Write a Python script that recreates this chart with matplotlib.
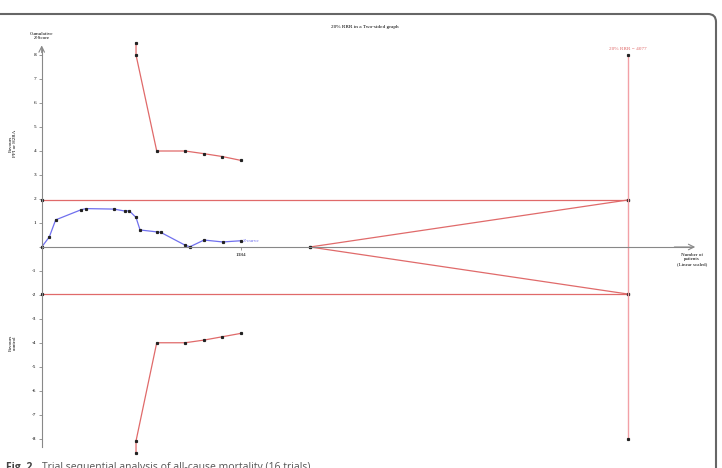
import matplotlib
matplotlib.use("Agg")
import matplotlib.pyplot as plt
from matplotlib.patches import FancyBboxPatch
from matplotlib.transforms import IdentityTransform

# Z-curve (cumulative patients, cumulative Z)
z_n = [0, 53, 97, 273, 308, 501, 577, 609, 656, 684, 800, 828, 999, 1031, 1129, 1259, 1384]
z_val = [0, 0.42, 1.13, 1.55, 1.60, 1.58, 1.50, 1.51, 1.23, 0.71, 0.63, 0.61, 0.07, 0.01, 0.29, 0.21, 0.26]

# trial sequential monitoring boundaries
bound_n = [656, 656, 800, 997, 1127, 1256, 1384]
bound_upper = [8.5, 8.0, 4.0, 4.0, 3.89, 3.77, 3.61]
bound_lower = [-8.58, -8.08, -3.99, -3.99, -3.88, -3.74, -3.60]

ris = 4077              # required information size
conv = 1.96             # conventional boundary
fut_start = 1866        # start of futility wedge
ris_top, ris_bottom = 8.0, -8.0

yticks = list(range(-8, 9))
ytick_labels = ["" if t == 0 else str(t) for t in yticks]
xticks = [1384]

red = "#e06a6a"
blue = "#7070ee"
dot = "#222222"
axis_col = "#888888"
serif = ["Liberation Serif", "DejaVu Serif"]
mk = dict(marker="s", ms=1.3, mfc=dot, mec=dot)

fig = plt.figure(figsize=(7.22, 4.68), dpi=100)
ax = fig.add_axes([0, 0, 1, 1])
ax.set_facecolor("none")

# pixel scale of the original: 199 px per 1384 patients, 24 px per Z unit
px_n = 199 / 1384
ax.set_xlim(-41.7 / px_n, (722 - 41.7) / px_n)
ax.set_ylim(-(468 - 247) / 24, 247 / 24)

for s in ["top", "right"]:
    ax.spines[s].set_visible(False)
ax.spines["left"].set_position(("data", 0))
ax.spines["bottom"].set_position(("data", 0))
ax.spines["left"].set_bounds(-8.35, 8.3)
ax.spines["bottom"].set_bounds(0, 4520)
for s in ["left", "bottom"]:
    ax.spines[s].set_color(axis_col)
    ax.spines[s].set_linewidth(0.8)
ax.annotate("", xy=(0, 8.4), xytext=(0, 8.1),
            arrowprops=dict(arrowstyle="->", color=axis_col, lw=0.8,
                            shrinkA=0, shrinkB=0))
ax.annotate("", xy=(4545, 0), xytext=(4400, 0),
            arrowprops=dict(arrowstyle="->", color=axis_col, lw=0.8,
                            shrinkA=0, shrinkB=0))

ax.set_yticks(yticks)
ax.set_yticklabels(ytick_labels, fontsize=3.8, family=serif)
ax.set_xticks(xticks)
ax.set_xticklabels([str(x) for x in xticks], fontsize=3.8, family=serif)
ax.tick_params(axis="both", length=2.5, width=0.6, color=axis_col, pad=1.5)

# conventional boundaries
ax.plot([0, ris], [conv, conv], color=red, lw=0.9, **mk)
ax.plot([0, ris], [-conv, -conv], color=red, lw=0.9, **mk)
# futility wedge
ax.plot([fut_start, ris], [0, conv], color=red, lw=0.9, **mk)
ax.plot([fut_start, ris], [0, -conv], color=red, lw=0.9, **mk)
# required information size
ax.plot([ris, ris], [ris_bottom, ris_top], color="#f2a0a6", lw=1.0, **mk)
ax.text(ris, ris_top + 0.15, f"20% RRR = {ris}", color=red, fontsize=3.8,
        family=serif, ha="center", va="bottom")

# monitoring boundaries
ax.plot(bound_n, bound_upper, color=red, lw=0.9, **mk)
ax.plot(bound_n, bound_lower, color=red, lw=0.9, **mk)

# Z-curve
ax.plot(z_n, z_val, color=blue, lw=0.9, **mk)
ax.text(z_n[-1] + 15, z_val[-1], "Z-curve", color=blue, fontsize=3.8,
        family=serif, ha="left", va="center")

# axis captions
ax.text(0, 8.62, "Cumulative\nZ-Score", fontsize=3.6, family=serif,
        ha="center", va="bottom", linespacing=1.1)
ax.text(4525, -0.25, "Number of\npatients\n(Linear scaled)", fontsize=3.6,
        family=serif, ha="center", va="top", linespacing=1.1)
ax.text(-200, 4.3, "Favours\nPPI or H2RA", fontsize=3.6, family=serif,
        rotation=90, ha="center", va="center", linespacing=1.1)
ax.text(-200, -4.0, "Favours\ncontrol", fontsize=3.6, family=serif,
        rotation=90, ha="center", va="center", linespacing=1.1)
ax.text(2250, 9.17, "20% RRR in a Two-sided graph", fontsize=3.8,
        family=serif, ha="center", va="center")

# page frame and caption
frame = FancyBboxPatch((-20, -20), 736, 474,
                       boxstyle="round,pad=0,rounding_size=8",
                       transform=IdentityTransform(), fill=False,
                       ec="#666666", lw=1.5)
fig.add_artist(frame)
fig.text(0.008, 1 - 462 / 468, "Fig. 2", fontsize=7.5, weight="bold",
         color="#444444", family="Open Sans", va="top", ha="left")
fig.text(0.058, 1 - 462 / 468,
         "Trial sequential analysis of all-cause mortality (16 trials)",
         fontsize=7.5, color="#555555", family="Open Sans", va="top",
         ha="left")

fig.savefig("out.png", dpi=100)
plt.close(fig)
